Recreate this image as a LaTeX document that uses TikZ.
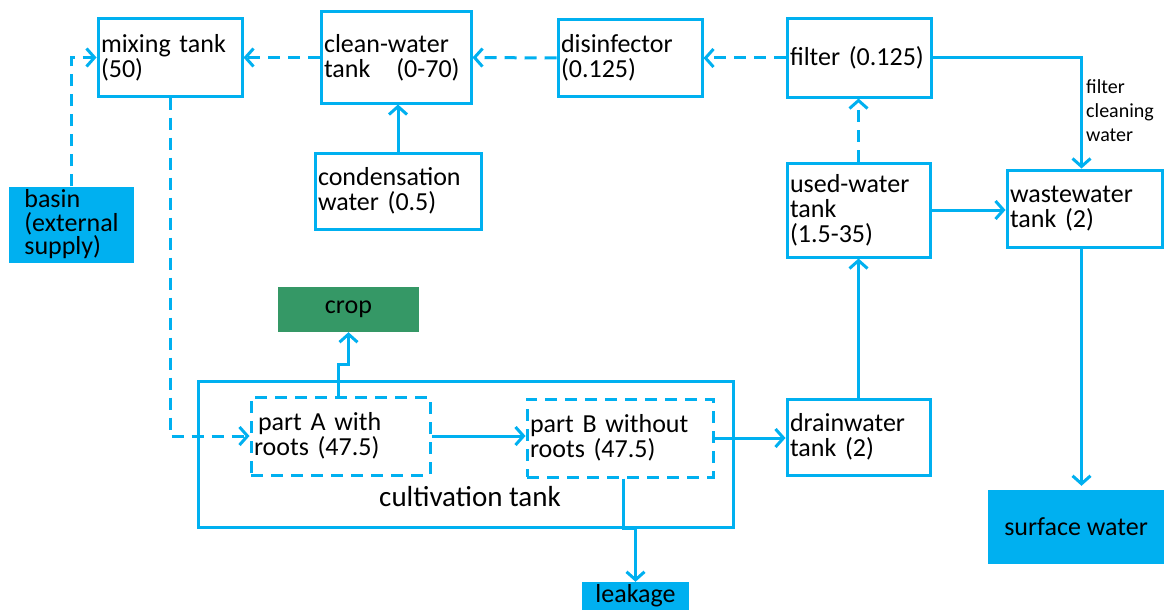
\documentclass[tikz,border=0pt]{standalone}
\usepackage{fontspec}
\setmainfont{Carlito}
\usetikzlibrary{arrows.meta}
\definecolor{cblue}{RGB}{0,176,240}
\definecolor{cgreen}{RGB}{53,152,102}
\begin{document}
\begin{tikzpicture}[x=1pt,y=1pt,
  box/.style={draw=cblue, line width=3pt, rectangle, inner xsep=3pt, inner ysep=2pt, align=left, font=\fontsize{26}{25}\selectfont},
  dbox/.style={box, dash pattern=on 12pt off 8pt},
  fbox/.style={fill=cblue, rectangle, inner sep=0pt, font=\fontsize{26}{25}\selectfont},
  line/.style={draw=cblue, line width=3pt},
  arr/.style={line, -{Straight Barb[length=8pt,width=18pt]}},
  darr/.style={arr, dash pattern=on 12pt off 8pt}]
\useasboundingbox (0,0) rectangle (1164,-610);

% boxes
\node[box, minimum width=144pt, minimum height=77pt, text width=138pt] (mix) at (170,-57.5) {mixing tank\\(50)};
\node[box, minimum width=150pt, minimum height=91pt, text width=144pt] (clean) at (396,-57.5) {clean-water\\tank~~~(0-70)};
\node[box, minimum width=144pt, minimum height=76pt, text width=138pt] (dis) at (630,-58) {disinfector\\(0.125)};
\node[box, minimum width=144pt, minimum height=78pt, text width=138pt] (filt) at (859,-58) {filter (0.125)};
\node[box, minimum width=166pt, minimum height=76pt, text width=160pt] (cond) at (398,-191) {condensation\\water (0.5)};
\node[fbox, minimum width=125pt, minimum height=76pt, align=left, font=\fontsize{26}{23.5}\selectfont] (basin) at (71.5,-224.5) {basin\\(external\\supply)};
\node[box, minimum width=143pt, minimum height=94pt, text width=137pt] (used) at (858.5,-210) {used-water\\tank\\(1.5-35)};
\node[box, minimum width=155pt, minimum height=77pt, text width=149pt] (waste) at (1084.5,-208.5) {wastewater\\tank (2)};
\node[fill=cgreen, rectangle, inner sep=0pt, minimum width=141pt, minimum height=45pt, font=\fontsize{26}{25}\selectfont, align=center] (crop) at (348.5,-309.5) {\raisebox{3pt}{crop}};
\node[draw=cblue, line width=3pt, rectangle, minimum width=535pt, minimum height=146pt] (cult) at (465.5,-454) {};
\node[font=\fontsize{29}{30}\selectfont, inner sep=0pt] (cultlbl) at (470,-497) {cultivation tank};
\node[dbox, minimum width=179pt, minimum height=78pt, text width=173pt] (pA) at (340.5,-436) {\hspace{4pt}part A with\\roots (47.5)};
\node[dbox, minimum width=186pt, minimum height=78pt, text width=180pt] (pB) at (620,-438) {part B without\\roots (47.5)};
\node[box, minimum width=143pt, minimum height=76pt, text width=137pt] (drain) at (858.5,-437) {drainwater\\tank (2)};
\node[fbox, minimum width=176pt, minimum height=74pt, align=center] (surf) at (1076,-527) {surface water};
\node[fbox, minimum width=107pt, minimum height=28pt, align=center] (leak) at (635.5,-596) {leakage};
\node[font=\fontsize{20}{24}\selectfont, align=left, anchor=west, inner sep=0pt] (fcw) at (1086,-111) {filter\\cleaning\\water};

% connectors
\draw[darr] (clean.west) -- (mix.east);
\draw[darr] (dis.west) -- (clean.east);
\draw[darr] (filt.west) -- (dis.east);
\draw[arr] (cond.north) -- (cond.north |- clean.south);
\draw[darr] (basin.north) |- (mix.west);
\draw[darr] (mix.south) |- (pA.west);
\draw[arr] ([xshift=-2.5pt]pA.north) -- ++(0,31) -| (crop.south);
\draw[arr] (pA.east) -- (pA.east -| pB.west);
\draw[arr] (pB.east) -- (pB.east -| drain.west);
\draw[arr] ([xshift=3.5pt]pB.south) -- ([xshift=3.5pt]pB.south |- cult.south) -| (leak.north);
\draw[arr] (drain.north) -- (used.south);
\draw[darr] (used.north) -- (used.north |- filt.south);
\draw[arr] (used.east) -- (used.east -| waste.west);
\draw[arr] (filt.east) -| ([xshift=-3pt]waste.north);
\draw[arr] ([xshift=-3pt]waste.south) -- ([xshift=-3pt,yshift=4pt]waste.south |- surf.north);
\end{tikzpicture}
\end{document}
